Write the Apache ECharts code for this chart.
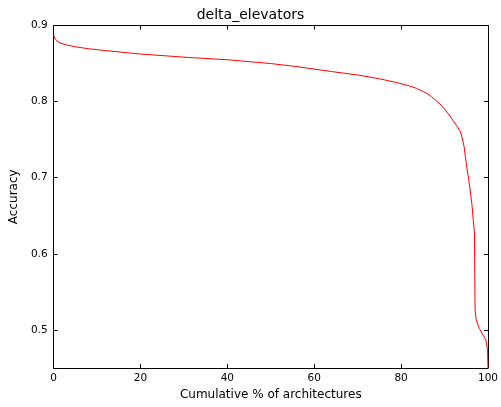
<!DOCTYPE html>
<html>
<head>
<meta charset="utf-8">
<script src="https://cdn.jsdelivr.net/npm/echarts@6/dist/echarts.min.js"></script>
<style>
  html, body { margin: 0; padding: 0; background: #fff; }
  #chart { width: 501px; height: 407px; }
</style>
</head>
<body>
<div id="chart"></div>
<script>
// Cumulative share of architectures (%) and the accuracy reached at that point
const cumulativePct = [
  0, 0.3, 0.7, 1.5, 3, 5, 8, 12, 20, 31, 40, 45, 50, 56, 64, 70, 75, 79, 82, 83.5,
  85, 86, 87, 88.2, 89.2, 90.2, 91.5, 92.7, 93.5, 93.9, 94.5, 95, 95.8, 96.3, 96.6,
  96.9, 96.95, 97.0, 97.05, 97.3, 98.0, 98.9, 99.5, 99.9, 100
];
const accuracy = [
  0.887, 0.883, 0.880, 0.877, 0.8745, 0.872, 0.8695, 0.867, 0.8625, 0.858, 0.855,
  0.8525, 0.850, 0.846, 0.8395, 0.835, 0.830, 0.825, 0.8205, 0.8175,
  0.8135, 0.8105, 0.8065, 0.8005, 0.7955, 0.789, 0.779, 0.769, 0.762, 0.756, 0.741,
  0.719, 0.688, 0.665, 0.645, 0.627, 0.580, 0.540, 0.525, 0.513, 0.502, 0.493,
  0.487, 0.474, 0.450
];
const xTicks = [0, 20, 40, 60, 80, 100];
const yTicks = [0.5, 0.6, 0.7, 0.8, 0.9];

const FONT = 'DejaVu Sans';
const chart = echarts.init(document.getElementById('chart'), null, { renderer: 'canvas' });

const frameLine = { show: true, onZero: false, lineStyle: { color: '#000', width: 1 } };
const innerTick = { show: true, inside: true, length: 4, lineStyle: { color: '#000', width: 1 } };

chart.setOption({
  animation: false,
  backgroundColor: '#fff',
  title: {
    text: 'delta_elevators',
    left: 'center',
    top: 8,
    padding: 0,
    textStyle: { fontFamily: FONT, fontSize: 14, fontWeight: 'normal', color: '#000' }
  },
  grid: { left: 51, right: 9, top: 25.5, bottom: 39, containLabel: false },
  xAxis: [
    {
      type: 'value', min: 0, max: 100, interval: 20, position: 'bottom',
      name: 'Cumulative % of architectures', nameLocation: 'middle', nameGap: 21,
      nameTextStyle: { fontFamily: FONT, fontSize: 12, color: '#000' },
      axisLine: frameLine,
      axisTick: Object.assign({ customValues: xTicks }, innerTick),
      axisLabel: { customValues: xTicks, fontFamily: FONT, fontSize: 10.5, color: '#000', margin: 5 },
      splitLine: { show: false }
    },
    {
      type: 'value', min: 0, max: 100, interval: 20, position: 'top',
      axisLine: frameLine,
      axisTick: Object.assign({ customValues: xTicks }, innerTick),
      axisLabel: { show: false }, splitLine: { show: false }
    }
  ],
  yAxis: [
    {
      type: 'value', min: 0.45, max: 0.9, position: 'left',
      name: 'Accuracy', nameLocation: 'middle', nameGap: 30,
      nameTextStyle: { fontFamily: FONT, fontSize: 12, color: '#000' },
      axisLine: frameLine,
      axisTick: Object.assign({ customValues: yTicks }, innerTick),
      axisLabel: {
        customValues: yTicks, fontFamily: FONT, fontSize: 10.5, color: '#000', margin: 6,
        formatter: v => v.toFixed(1)
      },
      splitLine: { show: false }
    },
    {
      type: 'value', min: 0.45, max: 0.9, position: 'right',
      axisLine: frameLine,
      axisTick: Object.assign({ customValues: yTicks }, innerTick),
      axisLabel: { show: false }, splitLine: { show: false }
    }
  ],
  series: [{
    type: 'line',
    xAxisIndex: 0, yAxisIndex: 0,
    data: cumulativePct.map((x, i) => [x, accuracy[i]]),
    showSymbol: false,
    smooth: false,
    clip: true,
    lineStyle: { color: '#ff0000', width: 1 }
  }]
});
</script>
</body>
</html>
